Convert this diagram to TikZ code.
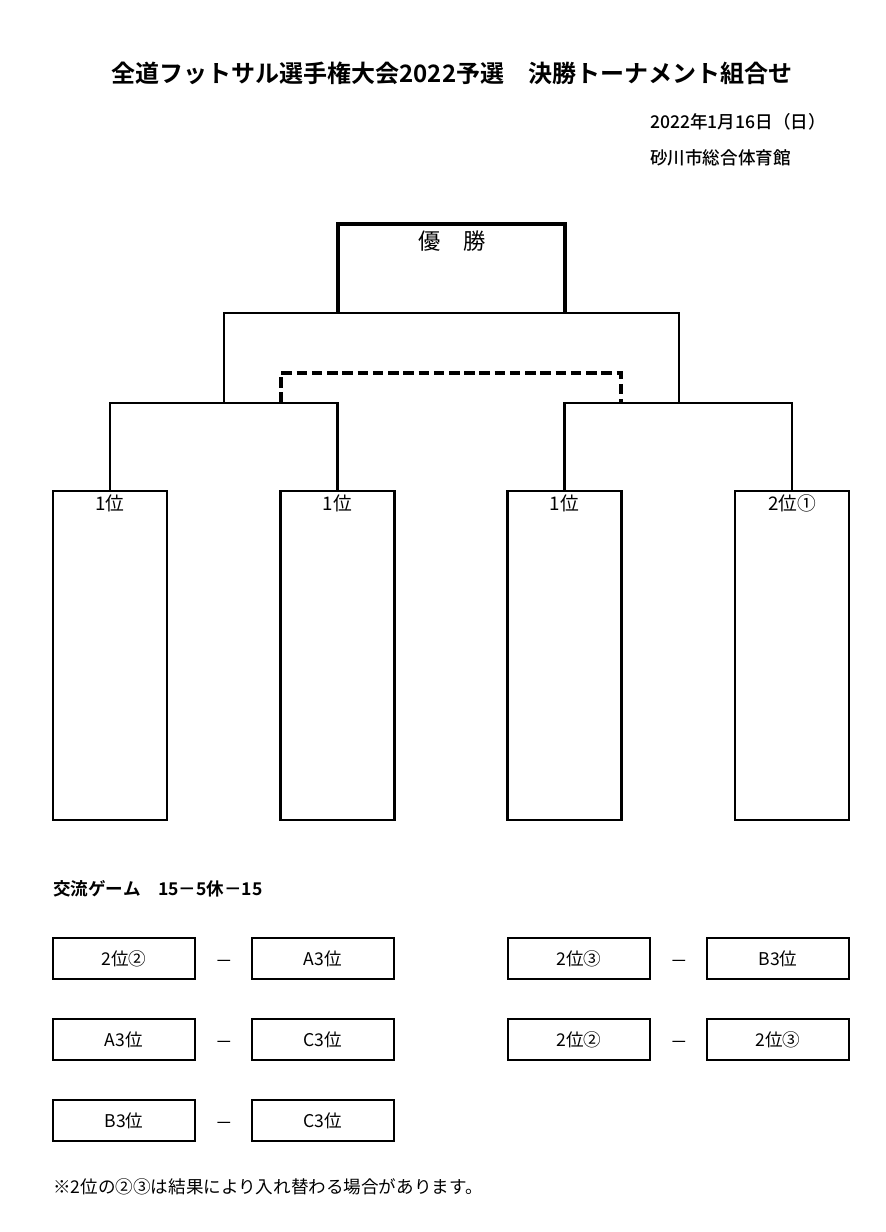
\documentclass[tikz,border=0pt]{standalone}
\usepackage{fontspec}
\setmainfont{Noto Sans CJK JP}
\newfontfamily\jpbold{Noto Sans CJK JP Bold}
\newfontfamily\jpmed{Noto Sans CJK JP Medium}
\usetikzlibrary{positioning}

\begin{document}
\begin{tikzpicture}
  [x=0.03cm, y=0.03cm,
   line/.style={line width=1.8pt},
   winline/.style={line width=3.2pt},
   dashline/.style={line width=3pt, dash pattern=on 9pt off 4pt},
   winbox/.style={minimum width=6.81cm, minimum height=2.67cm, inner sep=0pt},
   teambox/.style={draw, line, minimum width=3.42cm, minimum height=9.87cm, inner sep=0pt},
   gamebox/.style={draw, line width=2pt, minimum width=4.26cm, minimum height=1.23cm, inner sep=0pt,
     font=\fontsize{15}{18}\selectfont},
   teamlbl/.style={font=\fontsize{16}{19}\selectfont, inner sep=0pt},
   info/.style={font=\fontsize{15}{18}\selectfont, anchor=west, inner sep=0pt}]
  \useasboundingbox (0,0) rectangle (885,1232);

  \node[font=\jpbold\fontsize{20.5}{24}\selectfont] (title) at (452,1159)
    {全道フットサル選手権大会2022予選　決勝トーナメント組合せ};
  \node[info, font=\jpmed\fontsize{15}{18}\selectfont] (date) at (650,1110) {2022年1月16日（日）};
  \node[info, font=\jpmed\fontsize{15}{18}\selectfont] (venue) at (650,1074) {砂川市総合体育館};

  % final
  \node[winbox] (win) at (451.5,963.5) {};
  \node[font=\fontsize{19}{22}\selectfont] (wint) at (452,991) {優　勝};
  \draw[winline] (win.south west) |- (win.north east) -- (win.south east);

  % teams
  \node[teambox] (t1) at (110,576.5) {};
  \node[teambox] (t2) at (337.5,576.5) {};
  \node[teambox] (t3) at (564.5,576.5) {};
  \node[teambox] (t4) at (792,576.5) {};
  \foreach \t/\txt in {t1/1位,t2/1位,t3/1位,t4/2位①}
    \node[teamlbl] (l\t) at ([yshift=-0.39cm]\t.north) {\txt};

  \coordinate (s1) at (224,829);
  \coordinate (s2) at (679,829);
  \coordinate (d1) at (281,829);
  \coordinate (d2) at (621,829);

  \foreach \a/\s/\b in {t1/s1/t2,t3/s2/t4}
    \draw[line] (\a.north) |- (\s) -| (\b.north);
  \draw[line] (s1) |- (win.south) -| (s2);
  \draw[dashline] (d1) -- ++(0,30) -| (d2);

  % exchange games
  \node[info, font=\jpbold\fontsize{15}{18}\selectfont] (head) at (53,343) {交流ゲーム　15－5休－15};

  \node[gamebox] (g1) at (124,273.5) {2位②};
  \node[gamebox] (g2) at (323,273.5) {A3位};
  \node[gamebox] (g3) at (579,273.5) {2位③};
  \node[gamebox] (g4) at (778,273.5) {B3位};
  \node[gamebox] (g5) at (124,192.5) {A3位};
  \node[gamebox] (g6) at (323,192.5) {C3位};
  \node[gamebox] (g7) at (579,192.5) {2位②};
  \node[gamebox] (g8) at (778,192.5) {2位③};
  \node[gamebox] (g9) at (124,111.5) {B3位};
  \node[gamebox] (g10) at (323,111.5) {C3位};

  \foreach \m/\x/\y in {m1/224/268,m2/679/268,m3/224/187,m4/679/187,m5/224/106}
    \node[font=\fontsize{15}{18}\selectfont] (\m) at (\x,\y) {－};

  \node[info] (note) at (53,45) {※2位の②③は結果により入れ替わる場合があります。};
\end{tikzpicture}
\end{document}
